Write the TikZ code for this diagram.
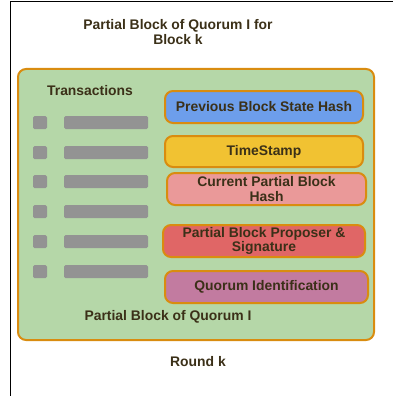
\documentclass[tikz,border=0pt]{standalone}
\usepackage{fontspec}
\setmainfont{Liberation Sans}
\begin{document}
\begin{tikzpicture}[x=1pt,y=-1pt,
  txt/.style={font=\fontsize{13.9}{14.5}\selectfont\bfseries, text=textc, align=center, inner sep=0pt},
  field/.style={draw=orangec, line width=2pt, rounded corners=8pt, txt},
  sq/.style={fill=grayc, draw=none, rounded corners=1.5pt},
]
\definecolor{textc}{HTML}{3B3018}
\definecolor{orangec}{HTML}{D98C10}
\definecolor{greenc}{HTML}{B5D7A8}
\definecolor{grayc}{HTML}{939393}
\definecolor{bluec}{HTML}{6D9EEB}
\definecolor{yellowc}{HTML}{F1C232}
\definecolor{pinkc}{HTML}{EA9999}
\definecolor{redc}{HTML}{E06666}
\definecolor{purplec}{HTML}{C27BA0}
\useasboundingbox (0,0) rectangle (393,396);
\draw[line width=1pt] (10,396) -- (10,2) -- (393,2);
\node[txt] (title) at (178,32) {Partial Block of Quorum I for\\Block k};
\draw[draw=orangec, fill=greenc, line width=2pt, rounded corners=8pt] (18,69) rectangle (374,340);
\node[txt] (tx) at (90,91) {Transactions};
\foreach \y in {116,146,175,205,235,265}{
  \fill[grayc, rounded corners=1.5pt] (33,\y) rectangle (47,\y+13);
  \fill[grayc, rounded corners=1.5pt] (64,\y) rectangle (148,\y+13);
}
\node[field, fill=bluec, minimum width=198pt, minimum height=32pt] (prev) at (264,107) {Previous Block State Hash};
\node[field, fill=yellowc, minimum width=198pt, minimum height=31pt] (ts) at (264,151.5) {TimeStamp};
\node[field, fill=pinkc, minimum width=199pt, minimum height=32pt] (cur) at (266.5,189) {Current Partial Block\\Hash};
\node[field, fill=redc, minimum width=202pt, minimum height=32pt] (prop) at (264,241) {Partial Block Proposer \&\\Signature};
\node[field, fill=purplec, minimum width=203pt, minimum height=32pt] (qid) at (266.5,287) {Quorum Identification};
\node[txt] (pb) at (168,317) {Partial Block of Quorum I};
\node[txt] (rk) at (198,362) {Round k};
\end{tikzpicture}
\end{document}
